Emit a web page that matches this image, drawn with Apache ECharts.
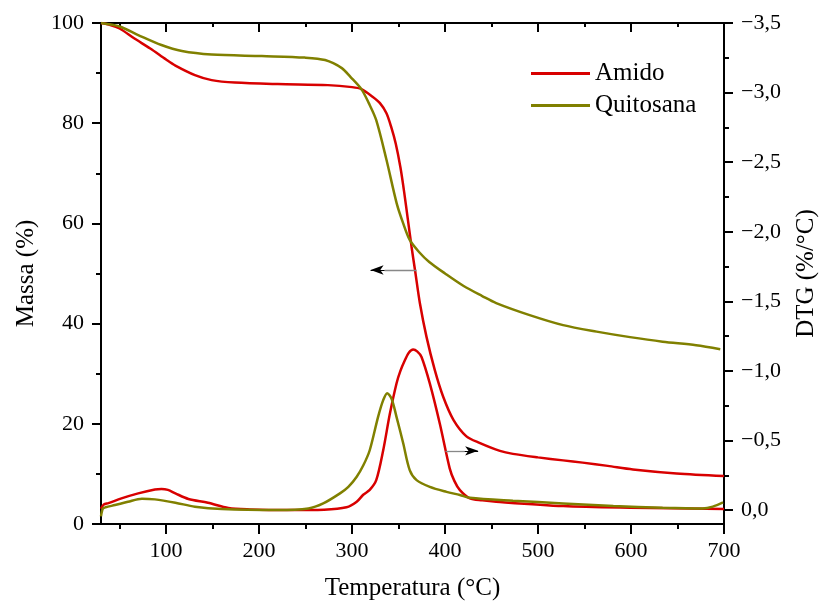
<!DOCTYPE html>
<html><head><meta charset="utf-8">
<script src="https://cdn.jsdelivr.net/npm/echarts@6/dist/echarts.min.js"></script>
<style>html,body{margin:0;padding:0;background:#fff}#c{width:819px;height:608px}</style>
</head><body><div id="c"></div>
<script>
// ---- data ----
const amidoMassT = [30, 40, 50, 66, 83, 100, 110, 131, 149, 174, 220, 274, 300, 310, 322, 330, 337, 342, 347, 352, 356, 360, 364, 368, 373, 380, 389, 398, 409, 423, 437, 459, 473, 500, 527, 548, 575, 602, 649, 700];
const amidoMass  = [100, 99.6, 98.9, 96.9, 94.9, 92.7, 91.5, 89.6, 88.6, 88.1, 87.8, 87.6, 87.2, 86.8, 85.3, 84.0, 82.0, 79.3, 75.9, 71.2, 66.3, 60.8, 55.3, 50.3, 44.0, 37.4, 30.7, 25.4, 20.8, 17.5, 16.2, 14.6, 14.0, 13.3, 12.7, 12.25, 11.6, 10.9, 10.1, 9.6];

const quitMassT = [30, 50, 70, 95, 117, 149, 203, 249, 271, 289, 298, 310, 318, 326, 337, 348, 355, 362, 372, 383, 400, 420, 440, 455, 491, 527, 563, 599, 634, 670, 696];
const quitMass  = [100, 99.3, 97.6, 95.6, 94.4, 93.7, 93.4, 93.1, 92.6, 91.0, 89.3, 86.8, 84.0, 80.6, 72.7, 64.0, 60.0, 56.7, 54.3, 52.3, 50.0, 47.5, 45.5, 44.1, 41.7, 39.7, 38.4, 37.3, 36.4, 35.7, 34.9];

const amidoDtgT = [30, 33, 38, 52, 70, 88, 95, 102, 110, 124, 145, 167, 190, 230, 270, 294, 305, 312, 319, 326, 333.5, 340.6, 347.8, 352, 356.8, 361, 365.7, 370, 374.7, 383.6, 394.4, 405, 410, 416, 426.7, 440, 455, 527, 599, 700];
const amidoDtg  = [-0.01, -0.04, -0.05, -0.084, -0.12, -0.148, -0.152, -0.145, -0.12, -0.08, -0.053, -0.015, -0.005, 0, -0.003, -0.02, -0.06, -0.11, -0.145, -0.215, -0.43, -0.69, -0.91, -1.0, -1.076, -1.13, -1.153, -1.14, -1.10, -0.91, -0.62, -0.30, -0.21, -0.143, -0.084, -0.07, -0.06, -0.029, -0.017, -0.007];

const quitDtgT = [30, 32, 35, 45, 59, 74, 88, 110, 131, 160, 220, 253, 269, 287, 296, 305, 312, 319, 328, 333.5, 337.8, 342.5, 347.8, 355, 362, 369.4, 383.6, 401.6, 416, 426.7, 473, 527, 581, 634, 677, 688, 699];
const quitDtg  = [0.045, -0.01, -0.02, -0.036, -0.06, -0.082, -0.077, -0.053, -0.024, -0.007, 0, -0.012, -0.048, -0.12, -0.167, -0.24, -0.32, -0.43, -0.67, -0.79, -0.84, -0.80, -0.67, -0.48, -0.287, -0.215, -0.167, -0.131, -0.108, -0.088, -0.067, -0.048, -0.029, -0.017, -0.012, -0.025, -0.055];

const xMajorTicks = [100, 200, 300, 400, 500, 600, 700];
const xMinorTicks = [50, 150, 250, 350, 450, 550, 650];
const dtgMajorTicks = [-3.5, -3, -2.5, -2, -1.5, -1, -0.5, 0];
const dtgMinorTicks = [-3.25, -2.75, -2.25, -1.75, -1.25, -0.75, -0.25];

// arrows (data coordinates on the mass axis): shaft and head
const arrowLeft  = { from: [369.4, 50.7], head: [335.0, 50.7], to: [319.9, 50.7] };
const arrowRight = { from: [400.5, 14.6], head: [421.0, 14.6], to: [435.6, 14.6] };

const RED = '#d80000', OLIVE = '#808000';
const FONT = 'Liberation Serif';

function zip(t, v) { return t.map((x, i) => [x, v[i]]); }
function dtgFmt(v) {
  if (Math.abs(v) < 1e-9) return '0,0';
  return (v < 0 ? '\u2212' : '') + Math.abs(v).toFixed(1).replace('.', ',');
}

const axLine = { show: true, onZero: false, lineStyle: { color: '#000', width: 2 } };
const noLine = { show: false, onZero: false };
const lbl = { color: '#000', fontSize: 22, fontFamily: FONT };
const nameStyle = { color: '#000', fontSize: 25, fontFamily: FONT };
const SM = 0.3;

const chart = echarts.init(document.getElementById('c'), null, { renderer: 'canvas' });
chart.setOption({
  animation: false,
  backgroundColor: '#fff',
  textStyle: { fontFamily: FONT },
  grid: { left: 101, right: 95, top: 23, bottom: 84, containLabel: false, outerBoundsMode: 'none' },
  legend: {
    data: ['Amido', 'Quitosana'],
    orient: 'vertical', left: 531, top: 61, itemGap: 7, padding: 0,
    icon: 'rect', itemWidth: 59, itemHeight: 3,
    textStyle: { color: '#000', fontSize: 25, fontFamily: FONT }
  },
  xAxis: [
    { type: 'value', min: 30, max: 700, position: 'bottom', axisLine: axLine,
      axisTick: { show: true, inside: false, length: 10, customValues: xMajorTicks, lineStyle: { color: '#000', width: 2 } },
      axisLabel: Object.assign({ customValues: xMajorTicks, margin: 16 }, lbl),
      splitLine: { show: false },
      name: 'Temperatura (°C)', nameLocation: 'middle', nameGap: 52, nameTextStyle: nameStyle },
    { type: 'value', min: 30, max: 700, position: 'bottom', axisLine: noLine,
      axisTick: { show: true, inside: false, length: 5, customValues: xMinorTicks, lineStyle: { color: '#000', width: 2 } },
      axisLabel: { show: false }, splitLine: { show: false } },
    { type: 'value', min: 30, max: 700, position: 'top', axisLine: axLine,
      axisTick: { show: true, inside: true, length: 9, customValues: xMajorTicks, lineStyle: { color: '#000', width: 2 } },
      axisLabel: { show: false }, splitLine: { show: false } },
    { type: 'value', min: 30, max: 700, position: 'top', axisLine: noLine,
      axisTick: { show: true, inside: true, length: 4, customValues: xMinorTicks, lineStyle: { color: '#000', width: 2 } },
      axisLabel: { show: false }, splitLine: { show: false } }
  ],
  yAxis: [
    { type: 'value', min: 0, max: 100, interval: 20, position: 'left', axisLine: axLine,
      axisTick: { show: true, inside: false, length: 9, lineStyle: { color: '#000', width: 2 } },
      minorTick: { show: true, splitNumber: 2, length: 5, lineStyle: { color: '#000', width: 2 } },
      axisLabel: Object.assign({ margin: 17 }, lbl),
      splitLine: { show: false },
      name: 'Massa (%)', nameLocation: 'middle', nameGap: 62, nameRotate: 90, nameTextStyle: nameStyle },
    { type: 'value', min: -3.5, max: 0.1, inverse: true, position: 'right', axisLine: axLine,
      axisTick: { show: true, inside: false, length: 9, customValues: dtgMajorTicks, lineStyle: { color: '#000', width: 2 } },
      axisLabel: Object.assign({ customValues: dtgMajorTicks, margin: 17, formatter: dtgFmt }, lbl),
      splitLine: { show: false },
      name: 'DTG (%/°C)', nameLocation: 'middle', nameGap: 70, nameRotate: 90, nameTextStyle: nameStyle },
    { type: 'value', min: -3.5, max: 0.1, inverse: true, position: 'right', axisLine: noLine,
      axisTick: { show: true, inside: false, length: 5, customValues: dtgMinorTicks, lineStyle: { color: '#000', width: 2 } },
      axisLabel: { show: false }, splitLine: { show: false } }
  ],
  series: [
    { name: 'Amido', type: 'line', xAxisIndex: 0, yAxisIndex: 0, data: zip(amidoMassT, amidoMass),
      showSymbol: false, smooth: SM, lineStyle: { color: RED, width: 2.5 }, itemStyle: { color: RED },
      markLine: { silent: true, symbol: ['none', 'none'], label: { show: false },
        lineStyle: { color: '#888', width: 1.3, type: 'solid' },
        data: [[{ coord: arrowLeft.from }, { coord: arrowLeft.head }], [{ coord: arrowRight.from }, { coord: arrowRight.head }]] } },
    { name: 'Quitosana', type: 'line', xAxisIndex: 0, yAxisIndex: 0, data: zip(quitMassT, quitMass),
      showSymbol: false, smooth: SM, lineStyle: { color: OLIVE, width: 2.5 }, itemStyle: { color: OLIVE },
      markLine: { silent: true, symbol: ['none', 'arrow'], symbolSize: [7, 13], label: { show: false },
        lineStyle: { color: '#000', width: 1, type: 'solid' },
        data: [[{ coord: arrowLeft.head }, { coord: arrowLeft.to }], [{ coord: arrowRight.head }, { coord: arrowRight.to }]] } },
    { name: 'Amido', type: 'line', xAxisIndex: 0, yAxisIndex: 1, data: zip(amidoDtgT, amidoDtg),
      showSymbol: false, smooth: SM, lineStyle: { color: RED, width: 2.5 }, itemStyle: { color: RED } },
    { name: 'Quitosana', type: 'line', xAxisIndex: 0, yAxisIndex: 1, data: zip(quitDtgT, quitDtg),
      showSymbol: false, smooth: SM, lineStyle: { color: OLIVE, width: 2.5 }, itemStyle: { color: OLIVE } }
  ]
});
</script></body></html>
